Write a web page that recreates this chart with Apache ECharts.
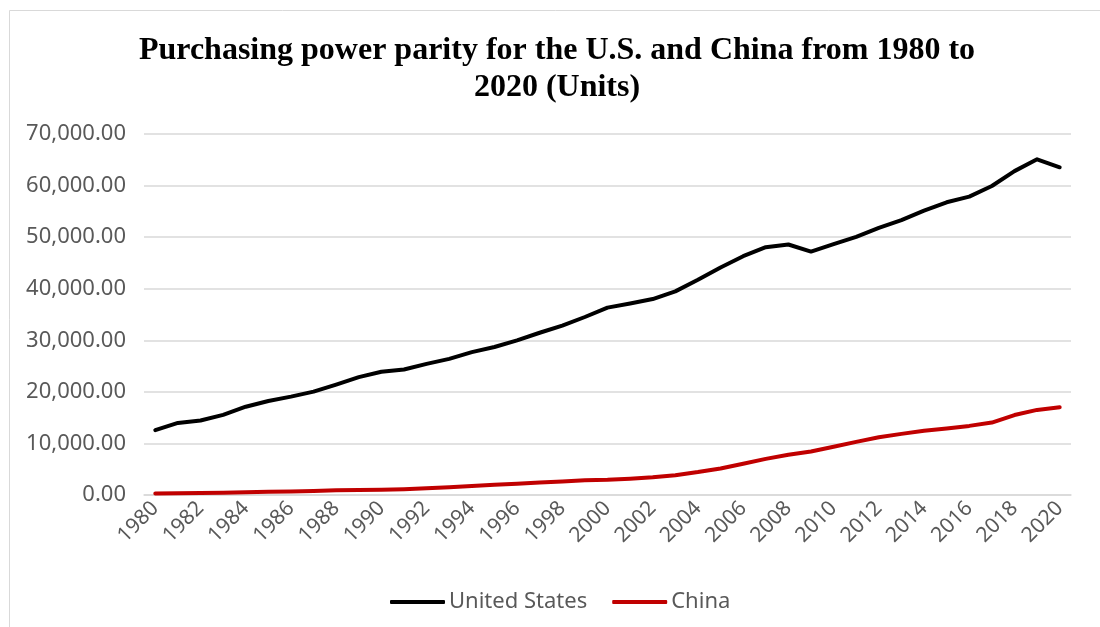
<!DOCTYPE html>
<html>
<head>
<meta charset="utf-8">
<script src="https://cdn.jsdelivr.net/npm/echarts@6/dist/echarts.min.js"></script>
<style>
  html, body { margin: 0; padding: 0; background: #fff; }
  #chart { width: 1100px; height: 627px; }
</style>
</head>
<body>
<div id="chart"></div>
<script>
// Years on the category axis
const years = [];
for (let y = 1980; y <= 2020; y++) years.push(String(y));

// GDP per capita, PPP (current international $)
const unitedStates = [
  12575, 13976, 14434, 15544, 17121, 18237, 19071, 20039, 21417, 22857,
  23889, 24342, 25419, 26387, 27695, 28691, 29968, 31459, 32854, 34515,
  36330, 37134, 37998, 39490, 41725, 44123, 46302, 48050, 48570, 47195,
  48651, 50066, 51784, 53291, 55124, 56763, 57867, 59915, 62805, 65095,
  63544
];
const china = [
  307, 350, 399, 454, 538, 624, 690, 788, 897, 956,
  1017, 1132, 1312, 1519, 1743, 1970, 2198, 2430, 2629, 2860,
  2950, 3150, 3420, 3850, 4450, 5150, 6050, 7000, 7800, 8450,
  9350, 10300, 11200, 11850, 12450, 12900, 13400, 14050, 15500, 16500,
  17000
];

const titleLines = [
  'Purchasing power parity for the U.S. and China from 1980 to',
  '2020 (Units)'
];

const labelFont = '"Noto Sans", "DejaVu Sans", sans-serif';
const labelColor = '#595959';

const chart = echarts.init(document.getElementById('chart'), null, { renderer: 'canvas' });

chart.setOption({
  backgroundColor: '#ffffff',
  animation: false,
  graphic: [
    {
      type: 'rect',
      shape: { x: 9.5, y: 10.5, width: 1120, height: 640 },
      style: { fill: 'none', stroke: '#d9d9d9', lineWidth: 1 },
      silent: true,
      z: -10
    },
    {
      type: 'text',
      x: 557,
      y: 69,
      style: {
        text: titleLines.join('\n'),
        fontFamily: '"Liberation Serif", "Times New Roman", serif',
        fontWeight: 'bold',
        fontSize: 32,
        lineHeight: 37,
        fill: '#000000',
        align: 'center',
        verticalAlign: 'middle'
      }
    }
  ],
  legend: {
    data: ['United States', 'China'],
    bottom: 9,
    left: 385,
    icon: 'roundRect',
    itemWidth: 55,
    itemHeight: 4,
    itemGap: 25,
    textStyle: { fontFamily: labelFont, fontSize: 22, color: labelColor, padding: [0, 0, 0, -1] }
  },
  grid: {
    left: 144,
    right: 29,
    top: 134,
    bottom: 132,
    containLabel: false,
    outerBoundsMode: 'none'
  },
  xAxis: {
    type: 'category',
    data: years,
    boundaryGap: true,
    axisLine: { show: true, lineStyle: { color: '#d9d9d9', width: 1.5 } },
    axisTick: { show: false },
    axisLabel: {
      interval: 1,
      rotate: 45,
      margin: 10,
      fontFamily: labelFont,
      fontSize: 21,
      color: labelColor
    }
  },
  yAxis: {
    type: 'value',
    min: 0,
    max: 70000,
    interval: 10000,
    axisLine: { show: false },
    axisTick: { show: false },
    splitLine: { lineStyle: { color: '#d9d9d9', width: 1.5 } },
    axisLabel: {
      margin: 18,
      fontFamily: labelFont,
      fontSize: 22,
      color: labelColor,
      formatter: v => v.toLocaleString('en-US', { minimumFractionDigits: 2, maximumFractionDigits: 2 })
    }
  },
  series: [
    {
      name: 'United States',
      type: 'line',
      data: unitedStates,
      showSymbol: false,
      color: '#000000',
      lineStyle: { color: '#000000', width: 4, cap: 'round', join: 'round' }
    },
    {
      name: 'China',
      type: 'line',
      data: china,
      showSymbol: false,
      color: '#c00000',
      lineStyle: { color: '#c00000', width: 4, cap: 'round', join: 'round' }
    }
  ]
});
</script>
</body>
</html>
